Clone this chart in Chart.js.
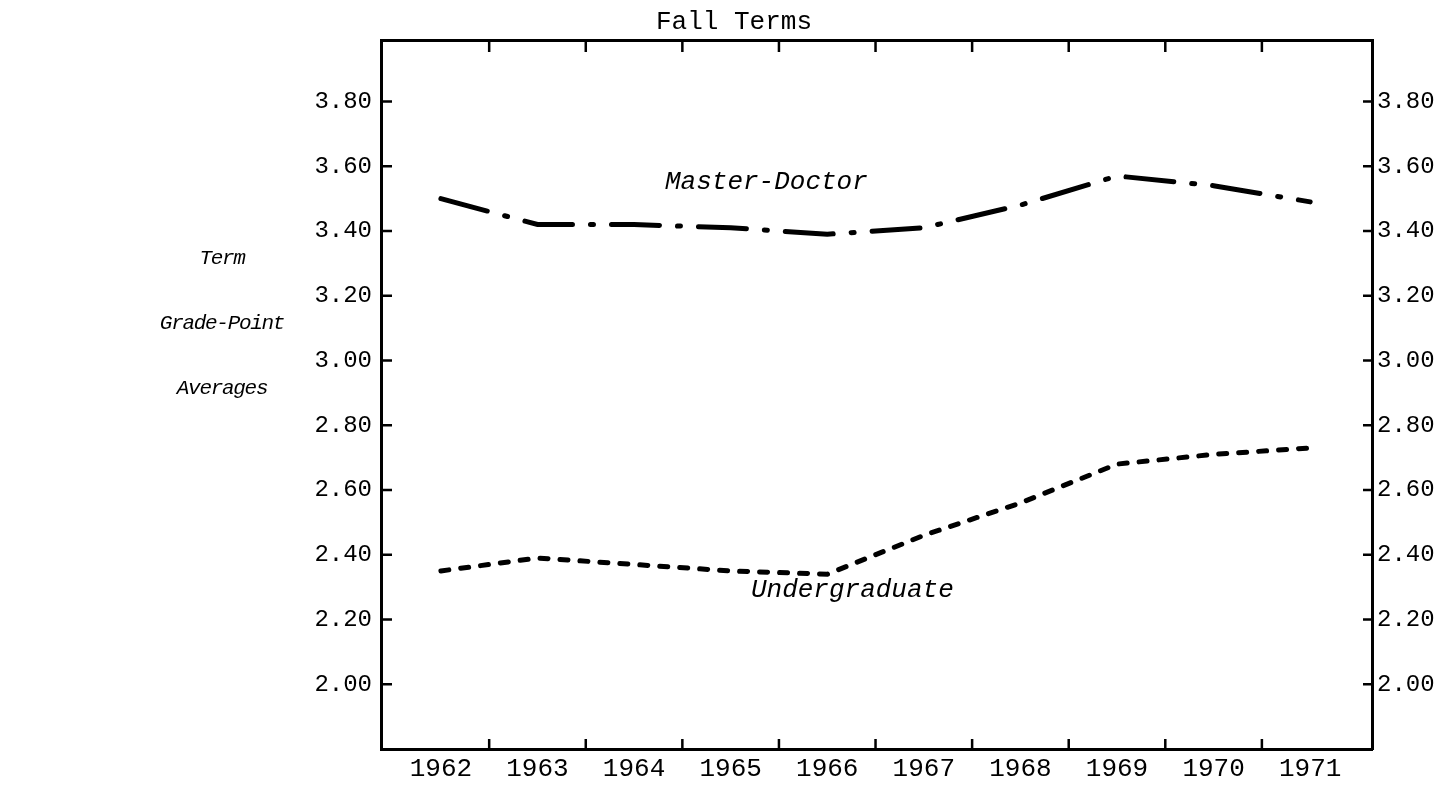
<!DOCTYPE html>
<html>
<head>
<meta charset="utf-8">
<title>Term Grade-Point Averages, Fall Terms</title>
<script src="https://cdn.jsdelivr.net/npm/chart.js@4/dist/chart.umd.min.js"></script>
<style>
  html, body { margin: 0; padding: 0; background: #fff; }
  #wrap { position: relative; width: 1455px; height: 787px; }
</style>
</head>
<body>
<div id="wrap"><canvas id="gpaChart"></canvas></div>
<script>
// Data
const years = [1962, 1963, 1964, 1965, 1966, 1967, 1968, 1969, 1970, 1971];
const masterDoctor = [3.50, 3.42, 3.42, 3.41, 3.39, 3.41, 3.48, 3.57, 3.54, 3.49];
const undergraduate = [2.35, 2.39, 2.37, 2.35, 2.34, 2.46, 2.56, 2.68, 2.71, 2.73];
const yTicks = [2.00, 2.20, 2.40, 2.60, 2.80, 3.00, 3.20, 3.40, 3.60, 3.80];

// Text
const chartTitle = 'Fall Terms';
const yTitleLines = ['Term', 'Grade-Point', 'Averages'];
const seriesLabels = [
  { text: 'Master-Doctor', x: 1965.37, y: 3.53 },
  { text: 'Undergraduate', x: 1966.26, y: 2.27 }
];

const MONO = '"Liberation Mono", "DejaVu Sans Mono", monospace';

// Builds point objects from the year and value arrays
function toPoints(values) {
  return values.map((v, i) => ({ x: years[i], y: v }));
}

// Draws the tick marks inside the frame, the series labels and the titles
const frameTextPlugin = {
  id: 'frameText',
  afterDatasetsDraw(chart) {
    const { ctx, chartArea, scales } = chart;
    ctx.save();
    ctx.strokeStyle = '#000';
    ctx.lineWidth = 2.5;

    // x ticks sit between the year labels
    for (let i = 0; i < years.length - 1; i++) {
      const px = scales.x.getPixelForValue(years[i] + 0.5);
      ctx.beginPath();
      ctx.moveTo(px, chartArea.top);
      ctx.lineTo(px, chartArea.top + 12);
      ctx.moveTo(px, chartArea.bottom);
      ctx.lineTo(px, chartArea.bottom - 10);
      ctx.stroke();
    }

    // y ticks, both sides
    yTicks.forEach(v => {
      const py = scales.y.getPixelForValue(v);
      ctx.beginPath();
      ctx.moveTo(chartArea.left, py);
      ctx.lineTo(chartArea.left + 11, py);
      ctx.moveTo(chartArea.right, py);
      ctx.lineTo(chartArea.right - 9, py);
      ctx.stroke();
    });

    ctx.fillStyle = '#000';
    ctx.textAlign = 'center';
    ctx.textBaseline = 'alphabetic';

    // series labels
    ctx.font = 'italic 26px ' + MONO;
    seriesLabels.forEach(l => {
      ctx.fillText(l.text, scales.x.getPixelForValue(l.x), scales.y.getPixelForValue(l.y));
    });

    // title above the frame
    ctx.font = '26px ' + MONO;
    ctx.fillText(chartTitle, 734, 29);

    // y axis title, three lines on the left
    ctx.font = 'italic 21px ' + MONO;
    ctx.letterSpacing = '-1.3px';
    yTitleLines.forEach((line, i) => {
      ctx.fillText(line, 222, 264 + i * 65);
    });

    ctx.restore();
  }
};

// Shared axis look
function frameBorder() {
  return { display: true, color: '#000', width: 3 };
}

function initChart() {
  const ctx = document.getElementById('gpaChart').getContext('2d');

  new Chart(ctx, {
    type: 'line',
    data: {
      datasets: [
        {
          label: 'Master-Doctor',
          data: toPoints(masterDoctor),
          borderColor: '#000',
          borderWidth: 5,
          borderDash: [48, 18, 3, 18],
          borderCapStyle: 'round',
          pointRadius: 0,
          tension: 0
        },
        {
          label: 'Undergraduate',
          data: toPoints(undergraduate),
          borderColor: '#000',
          borderWidth: 5,
          borderDash: [8, 12],
          borderCapStyle: 'round',
          pointRadius: 0,
          tension: 0
        }
      ]
    },
    options: {
      responsive: true,
      maintainAspectRatio: false,
      animation: false,
      layout: { padding: 0 },
      plugins: {
        legend: { display: false },
        tooltip: { enabled: false }
      },
      scales: {
        x: {
          type: 'linear',
          position: 'bottom',
          min: 1961.38,
          max: 1971.64,
          afterBuildTicks: scale => {
            scale.ticks = years.map(y => ({ value: y }));
          },
          afterFit: scale => { scale.height = 38; },
          grid: { drawOnChartArea: false, drawTicks: false },
          border: frameBorder(),
          ticks: {
            color: '#000',
            padding: 5,
            maxRotation: 0,
            autoSkip: false,
            font: { family: MONO, size: 26 },
            callback: v => String(v)
          }
        },
        x2: {
          type: 'linear',
          position: 'top',
          min: 1961.38,
          max: 1971.64,
          afterFit: scale => { scale.height = 40; },
          grid: { drawOnChartArea: false, drawTicks: false },
          border: frameBorder(),
          ticks: { display: false }
        },
        y: {
          position: 'left',
          min: 1.8,
          max: 3.99,
          afterBuildTicks: scale => {
            scale.ticks = yTicks.map(v => ({ value: v }));
          },
          afterFit: scale => { scale.width = 381; },
          grid: { drawOnChartArea: false, drawTicks: false },
          border: frameBorder(),
          ticks: {
            color: '#000',
            padding: 9,
            font: { family: MONO, size: 24 },
            callback: v => v.toFixed(2)
          }
        },
        y2: {
          position: 'right',
          min: 1.8,
          max: 3.99,
          afterBuildTicks: scale => {
            scale.ticks = yTicks.map(v => ({ value: v }));
          },
          afterFit: scale => { scale.width = 83; },
          grid: { drawOnChartArea: false, drawTicks: false },
          border: frameBorder(),
          ticks: {
            color: '#000',
            padding: 5,
            font: { family: MONO, size: 24 },
            callback: v => v.toFixed(2)
          }
        }
      }
    },
    plugins: [frameTextPlugin]
  });
}

document.addEventListener('DOMContentLoaded', initChart);
</script>
</body>
</html>
